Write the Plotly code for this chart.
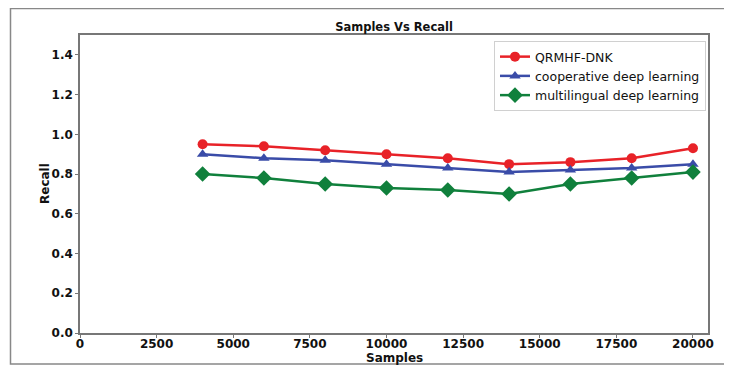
import plotly.graph_objects as go

samples = [4000, 6000, 8000, 10000, 12000, 14000, 16000, 18000, 20000]
qrmhf = [0.95, 0.94, 0.92, 0.90, 0.88, 0.85, 0.86, 0.88, 0.93]
coop = [0.90, 0.88, 0.87, 0.85, 0.83, 0.81, 0.82, 0.83, 0.85]
multi = [0.80, 0.78, 0.75, 0.73, 0.72, 0.70, 0.75, 0.78, 0.81]
x_ticks = [0, 2500, 5000, 7500, 10000, 12500, 15000, 17500, 20000]
y_ticks = [0.0, 0.2, 0.4, 0.6, 0.8, 1.0, 1.2, 1.4]

fig = go.Figure()
fig.add_trace(go.Scatter(x=samples, y=qrmhf, name="QRMHF-DNK", mode="lines+markers",
                         line=dict(color="#e82228", width=2.5),
                         marker=dict(symbol="circle", size=10, color="#e82228")))
fig.add_trace(go.Scatter(x=samples, y=coop, name="cooperative deep learning", mode="lines+markers",
                         line=dict(color="#3a4ca8", width=2.5),
                         marker=dict(symbol="triangle-up", size=10, color="#3a4ca8")))
fig.add_trace(go.Scatter(x=samples, y=multi, name="multilingual deep learning", mode="lines+markers",
                         line=dict(color="#10803c", width=2.5),
                         marker=dict(symbol="diamond", size=12, color="#10803c")))

# page body has an 8px margin, so the figure is placed at (8, 8)
OFF = 8
W, H = 732 - OFF, 368 - OFF
L, R, T, B = 80 - OFF, 732 - 708, 35 - OFF, 368 - 333
pw, ph = W - L - R, H - T - B

def px(x):
    return (x - OFF - L) / pw

def py(y):
    return (H - B - (y - OFF)) / ph

fig.update_layout(
    width=W, height=H,
    margin=dict(l=L, r=R, t=T, b=B, autoexpand=False),
    paper_bgcolor="white", plot_bgcolor="white",
    font=dict(family="DejaVu Sans", color="#111111"),
    title=dict(text="<b>Samples Vs Recall</b>", x=(394 - OFF) / W, xanchor="center",
               y=1 - (27 - OFF) / H, yanchor="middle", font=dict(size=11.5), automargin=False),
    showlegend=True,
    legend=dict(x=px(494), y=py(41), xanchor="left", yanchor="top",
                bgcolor="white", bordercolor="#d0d0d0", borderwidth=1,
                font=dict(size=12.5, family="DejaVu Sans"),
                tracegroupgap=0, itemwidth=30),
    xaxis=dict(range=[0, 20490], tickvals=x_ticks, ticktext=[str(v) for v in x_ticks],
               showgrid=False, zeroline=False, showline=True, linecolor="#777777", linewidth=1.5,
               mirror=True, ticks="outside", ticklen=3, tickcolor="#777777", automargin=False,
               ticklabelstandoff=-4,
               tickfont=dict(size=12, family="DejaVu Sans", weight="bold")),
    yaxis=dict(range=[0, 1.5], tickvals=y_ticks, ticktext=[f"{v:.1f}" for v in y_ticks],
               showgrid=False, zeroline=False, showline=True, linecolor="#777777", linewidth=1.5,
               mirror=True, ticks="outside", ticklen=3, tickcolor="#777777", automargin=False,
               tickfont=dict(size=12, family="DejaVu Sans", weight="bold")),
    annotations=[
        dict(text="<b>Samples</b>", xref="paper", yref="paper", x=px(394), y=py(358),
             xanchor="center", yanchor="middle", showarrow=False, font=dict(size=12)),
        dict(text="<b>Recall</b>", xref="paper", yref="paper", x=px(45), y=py(184),
             xanchor="center", yanchor="middle", showarrow=False, textangle=-90,
             font=dict(size=12)),
    ],
    shapes=[dict(type="rect", xref="paper", yref="paper",
                 x0=px(10.5), x1=px(745), y0=py(364), y1=py(8.5),
                 line=dict(color="#888888", width=1.5), layer="below")],
)

fig.write_html("out.html")
